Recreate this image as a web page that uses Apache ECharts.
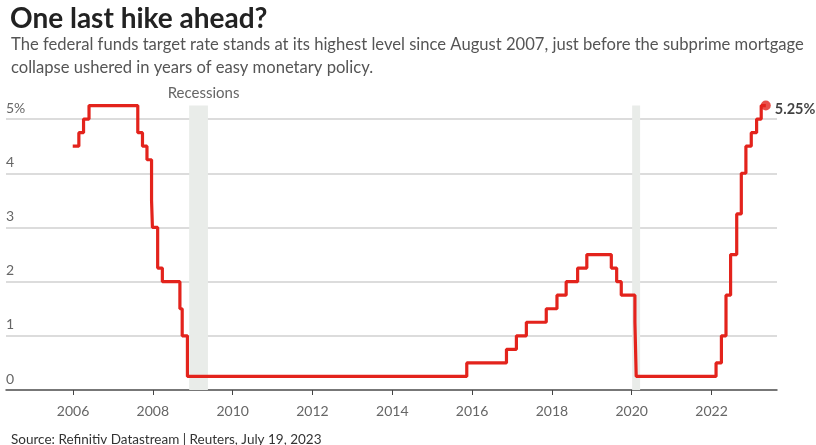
<!DOCTYPE html>
<html><head><meta charset="utf-8">
<script src="https://cdn.jsdelivr.net/npm/echarts@6/dist/echarts.min.js"></script>
<style>html,body{margin:0;padding:0;background:#fff}#c{width:816px;height:445px}</style>
</head><body><div id="c"></div>
<script>
// Fed funds target rate (upper bound), change dates
const changeDates = ['2006-01-31','2006-03-28','2006-05-10','2006-06-29','2007-09-18','2007-10-31','2007-12-11','2008-01-22','2008-01-30','2008-03-18','2008-04-30','2008-10-08','2008-10-29','2008-12-16','2015-12-16','2016-12-14','2017-03-15','2017-06-14','2017-12-13','2018-03-21','2018-06-13','2018-09-26','2018-12-19','2019-07-31','2019-09-18','2019-10-30','2020-03-03','2020-03-15','2022-03-16','2022-05-04','2022-06-15','2022-07-27','2022-09-21','2022-11-02','2022-12-14','2023-02-01','2023-03-22','2023-05-03','2023-06-14'];
const rates = [4.5,4.75,5.0,5.25,4.75,4.5,4.25,3.5,3.0,2.25,2.0,1.5,1.0,0.25,0.5,0.75,1.0,1.25,1.5,1.75,2.0,2.25,2.5,2.25,2.0,1.75,1.25,0.25,0.5,1.0,1.75,2.5,3.25,4.0,4.5,4.75,5.0,5.25,5.25];
const recessions = [[2009.0, 2009.47],[2020.1, 2020.3]];
const yearTicks = [2006,2008,2010,2012,2014,2016,2018,2020,2022];
const yTicks = [0,1,2,3,4,5];

function dy(s){const p=s.split('-').map(Number);const a=Date.UTC(p[0],0,1),b=Date.UTC(p[0]+1,0,1);return p[0]+(Date.UTC(p[0],p[1]-1,p[2])-a)/(b-a);}
const lineData = changeDates.map((d,i)=>[dy(d), rates[i]]);
const last = lineData[lineData.length-1];
const TICK_OFF = 0.09;
const tickVals = yearTicks.map(y=>y+TICK_OFF);

const FONT = 'Lato';
const chart = echarts.init(document.getElementById('c'), null, {renderer:'canvas'});
chart.setOption({
  animation:false,
  textStyle:{fontFamily:FONT},
  title:[
    {text:'One last hike ahead?', left:5, top:0, textStyle:{fontFamily:FONT,fontSize:28,fontWeight:'bold',color:'#222'}},
    {text:'The federal funds target rate stands at its highest level since August 2007, just before the subprime mortgage\ncollapse ushered in years of easy monetary policy.', left:6, top:28, textStyle:{fontFamily:FONT,fontSize:16.6,fontWeight:'normal',color:'#555',lineHeight:23}},
    {text:'Source: Refinitiv Datastream | Reuters, July 19, 2023', left:6, top:428, textStyle:{fontFamily:FONT,fontSize:13.5,fontWeight:'normal',color:'#333'}}
  ],
  grid:{left:6, right:39, top:92, bottom:55, containLabel:false},
  xAxis:{type:'value', min:2004.41, max:2023.73,
    axisLine:{show:true,lineStyle:{color:'#555',width:1.5}},
    axisTick:{show:true,customValues:tickVals,length:5,lineStyle:{color:'#444'}},
    axisLabel:{customValues:tickVals,formatter:v=>String(Math.round(v)),color:'#666',fontSize:14,margin:14},
    splitLine:{show:false}},
  yAxis:{type:'value', min:0, max:5.5, interval:1,
    axisLine:{show:false}, axisTick:{show:false},
    axisLabel:{inside:true, showMaxLabel:false, verticalAlign:'bottom', margin:0, padding:[0,0,4,0], color:'#666', fontSize:14,
      formatter:v=>v===5?'5%':(Number.isInteger(v)?String(v):'')},
    splitLine:{show:true, showMaxLine:false, lineStyle:{color:'#d0d0d0',width:1.5}}},
  series:[
    {type:'line', data:[], z:1, silent:true,
      markArea:{silent:true, itemStyle:{color:'#e9ece9'},
        data:recessions.map((r,i)=>[{xAxis:r[0], yAxis:0, label:{show:i===0, position:'top', distance:5, offset:[5,0], formatter:'Recessions', color:'#666', fontSize:15, fontFamily:FONT}},{xAxis:r[1], yAxis:5.25}])}},
    {type:'line', data:lineData, step:'end', showSymbol:false, z:3,
      lineStyle:{color:'#e3231c', width:3.2}, itemStyle:{color:'#e3231c'}},
    {type:'scatter', data:[last], symbol:'circle', symbolSize:10, z:4,
      itemStyle:{color:'#e3231c'},
      label:{show:true, position:'right', distance:4, formatter:p=>p.value[1].toFixed(2)+'%', color:'#111', fontWeight:'bold', fontSize:14.5, fontFamily:FONT, offset:[0,4]}}
  ]
});
</script></body></html>
